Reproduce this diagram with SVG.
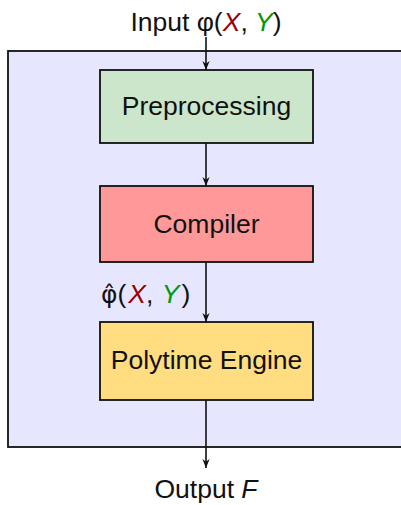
<svg xmlns="http://www.w3.org/2000/svg" width="401" height="505" viewBox="0 0 401 505">
  <style>
    text { font-family: "Liberation Sans", Arial, sans-serif; font-size: 26.5px; fill: #111; }
    .box { stroke: #111; stroke-width: 1.8; }
    .edge { stroke: #111; stroke-width: 1.6; fill: none; marker-end: url(#arrow); }
    .vx { fill: #990000; font-style: italic; }
    .vy { fill: #009900; font-style: italic; }
    .hat { font-family: "DejaVu Sans", sans-serif; font-size: 25px; }
  </style>
  <defs>
    <marker id="arrow" viewBox="0 0 10 10" refX="10" refY="5" markerWidth="9" markerHeight="9" orient="auto" markerUnits="userSpaceOnUse">
      <path d="M0,1 L10,5 L0,9 L3,5 Z" fill="#111"/>
    </marker>
  </defs>

  <!-- enclosing system frame -->
  <g id="frame">
    <rect x="8" y="51" width="400" height="396" fill="#e6e6ff" stroke="#111" stroke-width="1.8"/>
  </g>

  <g id="preprocessing">
    <rect class="box" x="100" y="70" width="213" height="73" fill="#cce6cc"/>
    <text x="206.5" y="115" text-anchor="middle">Preprocessing</text>
  </g>

  <g id="compiler">
    <rect class="box" x="100" y="186" width="213" height="76" fill="#ff9999"/>
    <text x="206.5" y="233" text-anchor="middle">Compiler</text>
  </g>

  <g id="engine">
    <rect class="box" x="100" y="322" width="213" height="78" fill="#ffdd80"/>
    <text x="206.5" y="369" text-anchor="middle">Polytime Engine</text>
  </g>

  <g id="connectors">
    <line class="edge" x1="206" y1="37" x2="206" y2="70"/>
    <line class="edge" x1="206" y1="143" x2="206" y2="186"/>
    <line class="edge" x1="206" y1="262" x2="206" y2="322"/>
    <line class="edge" x1="206" y1="400" x2="206" y2="468"/>
  </g>

  <g id="labels">
    <text x="206" y="31" text-anchor="middle">Input φ(<tspan class="vx">X</tspan>, <tspan class="vy">Y</tspan>)</text>
    <text x="101" y="303" font-size="28"><tspan class="hat">φ̂</tspan>(<tspan class="vx" dx="2">X</tspan>, <tspan class="vy" dx="1">Y</tspan><tspan dx="2">)</tspan></text>
    <text x="206" y="498" text-anchor="middle">Output <tspan font-style="italic">F</tspan></text>
  </g>
</svg>
